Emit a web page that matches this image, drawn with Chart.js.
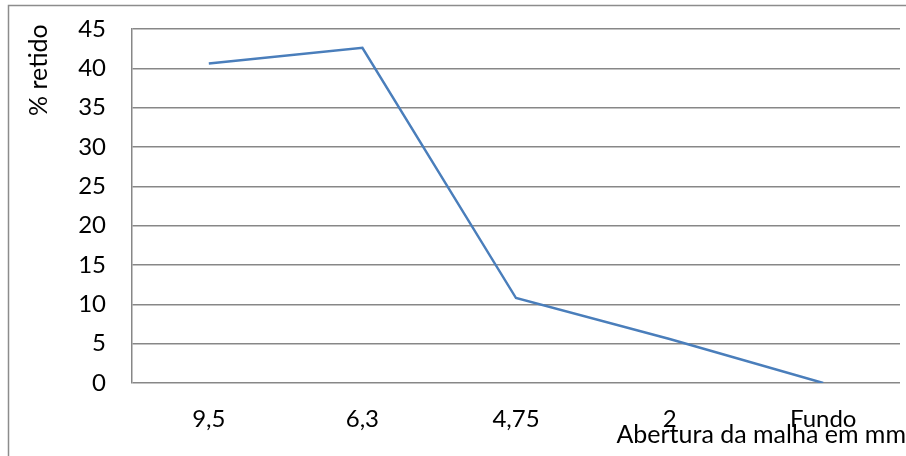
<!DOCTYPE html>
<html>
<head>
<meta charset="utf-8">
<script src="https://cdn.jsdelivr.net/npm/chart.js@4"></script>
<style>
  html, body { margin: 0; padding: 0; background: #ffffff; }
  #wrap { width: 906px; height: 456px; position: relative; }
</style>
</head>
<body>
<div id="wrap"><canvas id="chart" width="906" height="456"></canvas></div>
<script>
// Sieve openings (mm) and percentage retained on each
const categories = ['9,5', '6,3', '4,75', '2', 'Fundo'];
const retido = [40.6, 42.6, 10.8, 5.6, 0];
const yTicks = [0, 5, 10, 15, 20, 25, 30, 35, 40, 45];
const yTitle = '% retido';
const xTitle = 'Abertura da malha em mm';

const FONT = 'Lato, "Open Sans", sans-serif';
const FONT_SIZE = 24;
const TITLE_SIZE = 25;
const GRID = '#878787';

// Outer frame and axis titles
const decorations = {
  id: 'decorations',
  beforeDraw(chart) {
    const ctx = chart.ctx;
    ctx.save();
    ctx.fillStyle = '#ffffff';
    ctx.fillRect(0, 0, chart.width, chart.height);
    ctx.strokeStyle = '#8c8c8c';
    ctx.lineWidth = 1.5;
    ctx.strokeRect(8.5, 5.5, 1000, 1000);
    ctx.restore();
  },
  afterDraw(chart) {
    const ctx = chart.ctx;
    ctx.save();
    ctx.fillStyle = '#000000';
    ctx.font = TITLE_SIZE + 'px ' + FONT;
    ctx.textBaseline = 'alphabetic';
    // rotated y title
    ctx.save();
    ctx.translate(47, 116);
    ctx.rotate(-Math.PI / 2);
    ctx.textAlign = 'left';
    ctx.fillText(yTitle, 0, 0);
    ctx.restore();
    // x title, right aligned at the bottom
    ctx.textAlign = 'right';
    ctx.fillText(xTitle, 906, 443);
    ctx.restore();
  }
};

new Chart(document.getElementById('chart'), {
  type: 'line',
  data: {
    labels: categories,
    datasets: [{
      data: retido,
      borderColor: '#4A7EBB',
      borderWidth: 2.5,
      pointRadius: 0,
      pointHoverRadius: 0,
      tension: 0,
      fill: false
    }]
  },
  options: {
    responsive: false,
    animation: false,
    events: [],
    layout: { padding: { left: 0, top: 29, right: 6, bottom: 0 } },
    plugins: { legend: { display: false }, tooltip: { enabled: false } },
    scales: {
      x: {
        offset: true,
        grid: { display: false, drawTicks: false },
        border: { display: false },
        ticks: {
          color: '#000000',
          font: { family: FONT, size: FONT_SIZE },
          padding: 22,
          maxRotation: 0,
          autoSkip: false
        },
        afterFit(scale) { scale.height = 73; }
      },
      y: {
        min: 0,
        max: 45,
        afterBuildTicks(scale) { scale.ticks = yTicks.map(v => ({ value: v })); },
        grid: {
          color: GRID,
          lineWidth: 1.5,
          drawTicks: true,
          tickLength: 26,
          tickColor: 'rgba(0,0,0,0)'
        },
        border: { display: true, color: GRID, width: 1.5 },
        ticks: {
          color: '#000000',
          font: { family: FONT, size: FONT_SIZE, lineHeight: 1 },
          padding: 0
        },
        afterFit(scale) { scale.width = 132; }
      }
    }
  },
  plugins: [decorations]
});
</script>
</body>
</html>
